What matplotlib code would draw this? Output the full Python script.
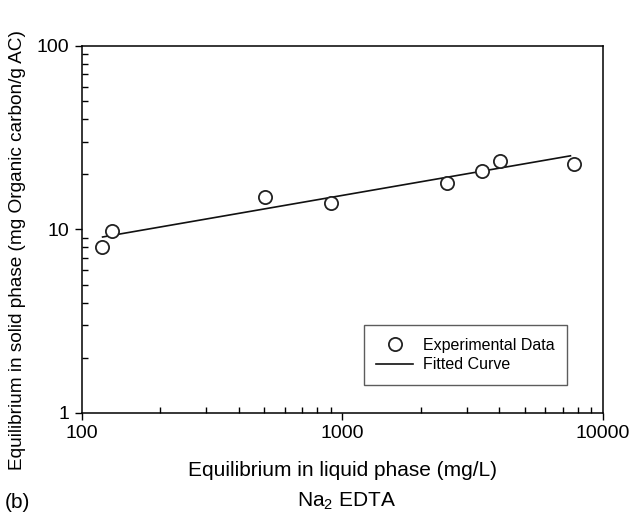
import matplotlib as mpl
mpl.use("Agg")
import matplotlib.pyplot as plt
from matplotlib.ticker import LogLocator, NullFormatter, FixedLocator, FixedFormatter

plt.rcParams['font.family'] = ['Liberation Sans', 'DejaVu Sans']
plt.rcParams['mathtext.fontset'] = 'custom'
plt.rcParams['mathtext.rm'] = 'Liberation Sans'

# experimental points (mg/L, mg C/g AC)
exp_x = [119, 130, 504, 903, 2518, 3437, 4029, 7740]
exp_y = [8.0, 9.8, 15.0, 13.9, 17.9, 20.8, 23.6, 22.7]

# fitted Freundlich line end points
fit_x = [120, 7500]
fit_y = [9.1, 25.2]

x_ticks = [100, 1000, 10000]
x_labels = ['100', '1000', '10000']
y_ticks = [1, 10, 100]
y_labels = ['1', '10', '100']

fig = plt.figure(figsize=(6.33, 5.12), dpi=100)
ax = fig.add_axes([0.1295, 0.1934, 0.8231, 0.7168])

ax.plot(exp_x, exp_y, 'o', mfc='white', mec='#222222', mew=1.3, ms=9.5,
        label='Experimental Data', zorder=3)
ax.plot(fit_x, fit_y, '-', color='#111111', lw=1.2, label='Fitted Curve')

ax.set_xscale('log')
ax.set_yscale('log')
ax.set_xlim(100, 10000)
ax.set_ylim(1, 100)

ax.xaxis.set_major_locator(FixedLocator(x_ticks))
ax.xaxis.set_major_formatter(FixedFormatter(x_labels))
ax.yaxis.set_major_locator(FixedLocator(y_ticks))
ax.yaxis.set_major_formatter(FixedFormatter(y_labels))
ax.xaxis.set_minor_locator(LogLocator(base=10, subs=range(2, 10)))
ax.yaxis.set_minor_locator(LogLocator(base=10, subs=range(2, 10)))
ax.xaxis.set_minor_formatter(NullFormatter())
ax.yaxis.set_minor_formatter(NullFormatter())

ax.tick_params(which='major', direction='out', length=5, width=1, labelsize=14, pad=4)
ax.tick_params(which='minor', direction='in', length=4, width=1)
for s in ax.spines.values():
    s.set_linewidth(1.1)

ax.set_xlabel('Equilibrium in liquid phase (mg/L)', fontsize=15, labelpad=13)
ax.set_ylabel('Equilibrium in solid phase (mg Organic carbon/g AC)', fontsize=13.7)
ax.yaxis.set_label_coords(-0.108, 0.445)

leg = ax.legend(loc='lower right', bbox_to_anchor=(0.931, 0.076), borderaxespad=0,
                fontsize=11.5, frameon=True, fancybox=False, edgecolor='#333333',
                handlelength=2.3, handletextpad=0.6, borderpad=0.8, labelspacing=0.3)
leg.get_frame().set_linewidth(1.0)

fig.text(0.008, 0.0, '(b)', fontsize=15, ha='left', va='bottom')
fig.text(0.548, 0.0, 'Na$_2$ EDTA', fontsize=15, ha='center', va='bottom')

plt.savefig('out.png', dpi=100)
